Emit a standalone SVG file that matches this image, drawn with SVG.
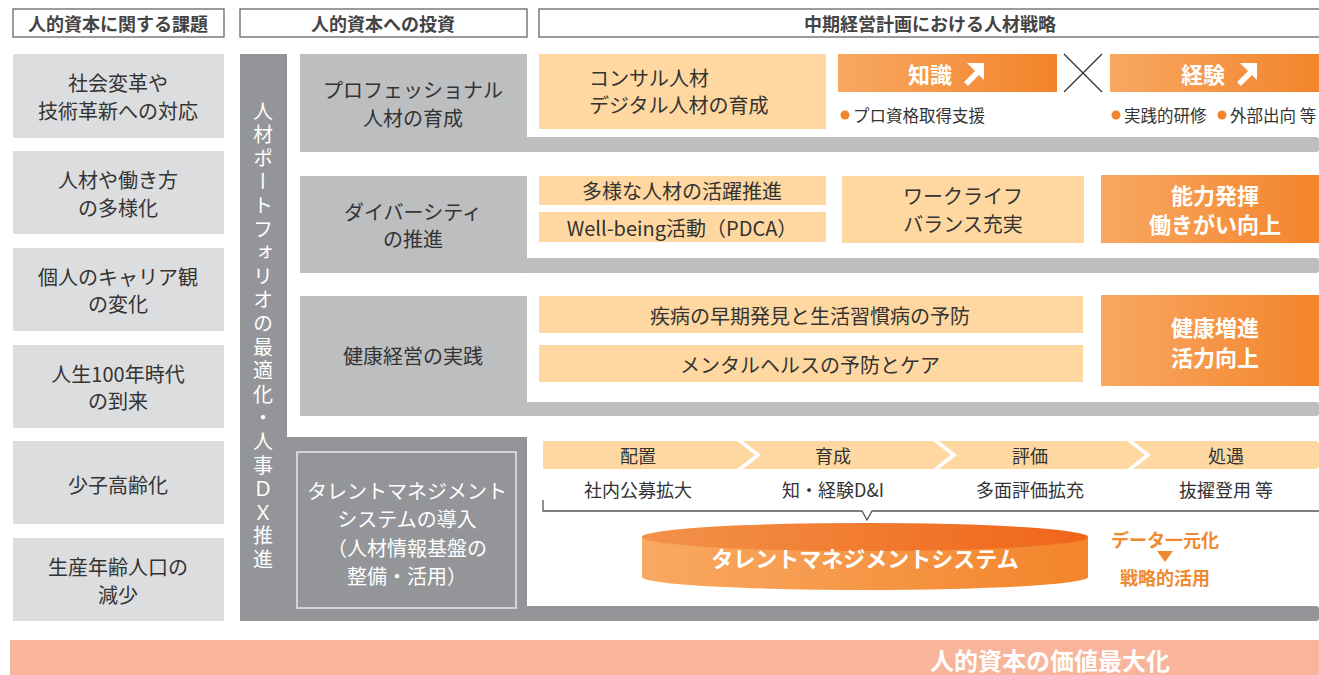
<svg xmlns="http://www.w3.org/2000/svg" width="1319" height="675" viewBox="0 0 1319 675">
<defs>
<linearGradient id="og" x1="0" y1="0" x2="1" y2="0">
<stop offset="0" stop-color="#f8a862"/>
<stop offset="1" stop-color="#f3832a"/>
</linearGradient>
<linearGradient id="cylTop" x1="0" y1="0" x2="1" y2="0">
<stop offset="0" stop-color="#f3924a"/>
<stop offset="1" stop-color="#ef6518"/>
</linearGradient>
<linearGradient id="cylBody" x1="0" y1="0" x2="1" y2="0">
<stop offset="0" stop-color="#f9a962"/>
<stop offset="1" stop-color="#f3842a"/>
</linearGradient>
<style>
text{font-family:"Noto Sans CJK JP","Noto Sans",sans-serif;dominant-baseline:central;text-anchor:middle;}
.hdr{fill:#fff;stroke:#666;stroke-width:1.3;}
.ht{font-size:18px;font-weight:bold;fill:#444;}
.lb{fill:#dcdddf;}
.lt{font-size:20px;fill:#333;}
.wl{font-size:20px;fill:#fff;}
.gs{fill:#bcbec0;}
.dg{fill:#939598;}
.pe{fill:#fed8a0;}
.og{fill:url(#og);}
.wt{font-size:22px;font-weight:bold;fill:#fff;}
.bt{font-size:16.5px;fill:#333;text-anchor:start;}
.dot{fill:#f3862b;}
.ct{font-size:18px;fill:#333;}
.ot{font-size:18px;font-weight:bold;fill:#f08a30;}
</style>
</defs>

<g id="headers">
<rect class="hdr" x="13" y="9" width="211" height="28"/>
<text class="ht" x="118" y="23">人的資本に関する課題</text>
<rect class="hdr" x="240" y="9" width="287" height="28"/>
<text class="ht" x="383" y="23">人的資本への投資</text>
<rect class="hdr" x="539" y="9" width="790" height="28"/>
<text class="ht" x="930" y="23">中期経営計画における人材戦略</text>
</g>

<g id="issues">
<g id="issue1"><rect class="lb" x="13" y="54" width="211" height="84"/>
<text class="lt" x="118" y="82">社会変革や</text><text class="lt" x="118" y="110">技術革新への対応</text></g>
<g id="issue2"><rect class="lb" x="13" y="151" width="211" height="83"/>
<text class="lt" x="118" y="179">人材や働き方</text><text class="lt" x="118" y="207">の多様化</text></g>
<g id="issue3"><rect class="lb" x="13" y="248" width="211" height="83"/>
<text class="lt" x="118" y="276">個人のキャリア観</text><text class="lt" x="118" y="303">の変化</text></g>
<g id="issue4"><rect class="lb" x="13" y="345" width="211" height="83"/>
<text class="lt" x="118" y="373">人生100年時代</text><text class="lt" x="118" y="400">の到来</text></g>
<g id="issue5"><rect class="lb" x="13" y="441" width="211" height="83"/>
<text class="lt" x="118" y="484">少子高齢化</text></g>
<g id="issue6"><rect class="lb" x="13" y="538" width="211" height="83"/>
<text class="lt" x="118" y="566">生産年齢人口の</text><text class="lt" x="118" y="594">減少</text></g>
</g>

<g id="portfolio-bar">
<rect class="dg" x="240" y="54" width="47" height="567"/>
<text x="263" y="337" font-size="20" fill="#fff" writing-mode="vertical-rl" letter-spacing="3.6">人材ポートフォリオの最適化・人事ＤＸ推進</text>
</g>

<g id="sec-professional">
<rect class="gs" x="300" y="54" width="227" height="98"/>
<rect class="gs" x="520" y="137" width="799" height="15" rx="3"/>
<text class="lt" x="413" y="89">プロフェッショナル</text>
<text class="lt" x="413" y="117">人材の育成</text>
<g id="consul"><rect class="pe" x="539" y="54" width="287" height="75"/>
<text class="lt" x="589" y="77" style="text-anchor:start">コンサル人材</text>
<text class="lt" x="589" y="104" style="text-anchor:start">デジタル人材の育成</text></g>
<g id="chishiki"><rect class="og" x="838" y="54" width="219" height="38"/>
<text class="wt" x="930" y="73">知識</text>
<path d="M966,84 L978,72" stroke="#fff" stroke-width="5.5" fill="none"/>
<polygon points="984,63 984,80 967,63" fill="#fff"/></g>
<g id="cross"><path d="M1064,54 L1102,92 M1102,54 L1064,92" stroke="#333" stroke-width="1.3" fill="none"/></g>
<g id="keiken"><rect class="og" x="1110" y="54" width="215" height="38"/>
<text class="wt" x="1203" y="73">経験</text>
<path d="M1239,84 L1251,72" stroke="#fff" stroke-width="5.5" fill="none"/>
<polygon points="1257,63 1257,80 1240,63" fill="#fff"/></g>
<circle class="dot" cx="845" cy="115" r="4.5"/>
<text class="bt" x="853" y="115">プロ資格取得支援</text>
<circle class="dot" cx="1116" cy="115" r="4.5"/>
<text class="bt" x="1124" y="115">実践的研修</text>
<circle class="dot" cx="1222" cy="115" r="4.5"/>
<text class="bt" x="1230" y="115">外部出向 等</text>
</g>

<g id="sec-diversity">
<rect class="gs" x="300" y="176" width="227" height="97"/>
<rect class="gs" x="520" y="258" width="799" height="15" rx="3"/>
<text class="lt" x="413" y="211">ダイバーシティ</text>
<text class="lt" x="413" y="238">の推進</text>
<rect class="pe" x="539" y="176" width="287" height="29"/>
<text class="lt" x="682" y="190">多様な人材の活躍推進</text>
<rect class="pe" x="539" y="212" width="287" height="30"/>
<text class="lt" x="682" y="227">Well-being活動（PDCA）</text>
<rect class="pe" x="842" y="176" width="242" height="67"/>
<text class="lt" x="963" y="195">ワークライフ</text>
<text class="lt" x="963" y="223">バランス充実</text>
<rect class="og" x="1101" y="175" width="224" height="68"/>
<text class="wt" x="1215" y="194">能力発揮</text>
<text class="wt" x="1215" y="223">働きがい向上</text>
</g>

<g id="sec-health">
<rect class="gs" x="300" y="296" width="227" height="120"/>
<rect class="gs" x="520" y="402" width="799" height="14" rx="3"/>
<text class="lt" x="413" y="355">健康経営の実践</text>
<rect class="pe" x="539" y="296" width="544" height="37"/>
<text class="lt" x="810" y="315">疾病の早期発見と生活習慣病の予防</text>
<rect class="pe" x="539" y="345" width="544" height="37"/>
<text class="lt" x="810" y="364">メンタルヘルスの予防とケア</text>
<rect class="og" x="1101" y="295" width="224" height="91"/>
<text class="wt" x="1215" y="326">健康増進</text>
<text class="wt" x="1215" y="356">活力向上</text>
</g>

<g id="sec-talent">
<rect class="dg" x="280" y="437" width="247" height="184"/>
<rect class="dg" x="520" y="606" width="799" height="15" rx="3"/>
<rect x="297" y="452" width="219" height="156" fill="none" stroke="#e8e8e8" stroke-width="1.5"/>
<text class="wl" x="407" y="490">タレントマネジメント</text>
<text class="wl" x="407" y="518">システムの導入</text>
<text class="wl" x="407" y="547">（人材情報基盤の</text>
<text class="wl" x="407" y="575">整備・活用）</text>
<g id="chevrons">
<path class="pe" d="M543,441 H737 L755,455 L737,469 H543 Z"/>
<path class="pe" d="M743,441 H933 L951,455 L933,469 H743 L761,455 Z"/>
<path class="pe" d="M939,441 H1127 L1145,455 L1127,469 H939 L957,455 Z"/>
<path class="pe" d="M1133,441 H1315 Q1319,441 1319,445 V465 Q1319,469 1315,469 H1133 L1151,455 Z"/>
<text class="ct" x="638" y="455">配置</text>
<text class="ct" x="833" y="455">育成</text>
<text class="ct" x="1030" y="455">評価</text>
<text class="ct" x="1226" y="455">処遇</text>
<text class="ct" x="638" y="489">社内公募拡大</text>
<text class="ct" x="833" y="489">知・経験D&amp;I</text>
<text class="ct" x="1030" y="489">多面評価拡充</text>
<text class="ct" x="1226" y="489">抜擢登用 等</text>
</g>
<path d="M543,500 V511 H862 L867,520 L872,511 H1319" fill="none" stroke="#555" stroke-width="1.3"/>
<g id="tms">
<path d="M642,537 V577 A223,13 0 0 0 1088,577 V537 Z" fill="url(#cylBody)"/>
<ellipse cx="865" cy="537" rx="223" ry="14" fill="url(#cylTop)"/>
<text x="865" y="557" font-size="22" font-weight="bold" fill="#fff">タレントマネジメントシステム</text>
</g>
<text class="ot" x="1165" y="539">データ一元化</text>
<polygon points="1157,551 1173,551 1165,562" fill="#f08a30"/>
<text class="ot" x="1165" y="577">戦略的活用</text>
</g>

<g id="result">
<rect x="10" y="640" width="1309" height="35" fill="#f9b59b"/>
<text x="1050" y="659" font-size="24" font-weight="bold" fill="#fff">人的資本の価値最大化</text>
</g>
</svg>
